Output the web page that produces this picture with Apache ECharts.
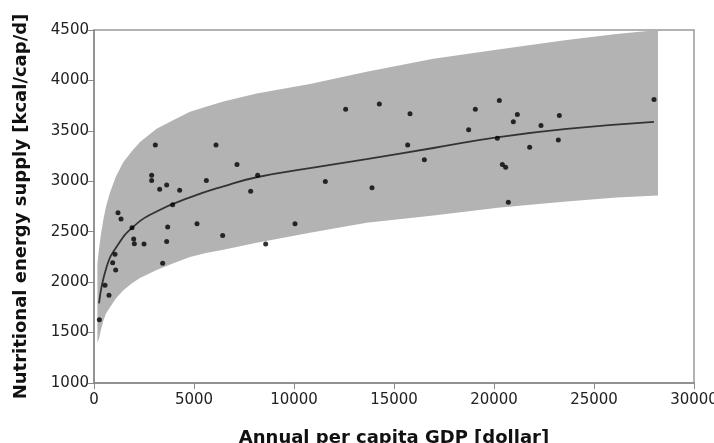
<!DOCTYPE html>
<html>
<head>
<meta charset="utf-8">
<script src="https://cdn.jsdelivr.net/npm/echarts@6/dist/echarts.min.js"></script>
<style>
  html, body { margin: 0; padding: 0; background: #fff; }
  #chart { width: 714px; height: 443px; }
</style>
</head>
<body>
<div id="chart"></div>
<script>
  // scatter: per capita GDP [dollar] / energy supply [kcal/cap/d]
  var gdp = [267, 550, 750, 933, 1050, 1083, 1200, 1350, 1900, 1983, 2017, 2500, 2883, 2883, 3067, 3283, 3433, 3633, 3633, 3683, 3933, 4283, 5150, 5617, 6100, 6433, 7150, 7833, 8183, 8583, 10050,
    11567, 12583, 13900, 14267, 15683, 15800, 16517, 18733, 19067, 20167, 20267, 20417, 20583, 20717, 20967, 21167, 21783, 22350, 23217, 23267, 28000]
  var kcal = [1627, 1970, 1870, 2193, 2277, 2120, 2687, 2627, 2540, 2427, 2380, 2377, 3060, 3007, 3360, 2920, 2187, 2963, 2403, 2547, 2767, 2910, 2580, 3007, 3360, 2463, 3167, 2900, 3060, 2377, 2580,
    2997, 3713, 2937, 3767, 3360, 3670, 3213, 3510, 3713, 3427, 3800, 3167, 3140, 2793, 3590, 3663, 3337, 3553, 3410, 3653, 3810]

  // fitted curve
  var curveX = [250, 630, 1130, 1970, 3130, 4800, 6470, 8130, 10800, 13630, 16970, 20300, 23630, 28000]
  var curveY = [1790, 2150, 2350, 2550, 2700, 2840, 2950, 3040, 3130, 3220, 3330, 3440, 3520, 3590]

  // grey band (upper / lower boundary)
  var bandX = [170, 250, 350, 470, 600, 800, 1100, 1470, 1900, 2300, 3130, 4000, 4800, 5600, 6470, 8130, 10800, 13630, 16970, 20300, 23630, 26130, 28200]
  var bandUpper = [2180, 2330, 2480, 2620, 2750, 2890, 3050, 3190, 3300, 3390, 3520, 3610, 3690, 3740, 3790, 3870, 3965, 4085, 4215, 4310, 4400, 4460, 4500]
  var bandLower = [1400, 1440, 1530, 1620, 1690, 1750, 1840, 1920, 1990, 2040, 2120, 2190, 2250, 2290, 2320, 2390, 2490, 2590, 2660, 2740, 2800, 2840, 2860]

  var font = 'DejaVu Sans'
  var chart = echarts.init(document.getElementById('chart'))

  chart.setOption({
    animation: false,
    grid: {
      left: 94,
      right: 20,
      top: 30,
      bottom: 60,
      outerBoundsMode: 'none',
      show: true,
      borderColor: '#999',
      borderWidth: 1.5,
      backgroundColor: 'transparent'
    },
    xAxis: {
      type: 'value',
      min: 0,
      max: 30000,
      interval: 5000,
      name: 'Annual per capita GDP [dollar]',
      nameLocation: 'middle',
      nameGap: 46,
      nameTextStyle: { fontFamily: font, fontWeight: 'bold', fontSize: 18, color: '#111' },
      axisLine: { lineStyle: { color: '#888', width: 1.5 } },
      axisTick: { show: true, length: 6, lineStyle: { color: '#888' } },
      axisLabel: { fontFamily: font, fontSize: 15, color: '#222', margin: 10, formatter: function (v) { return String(v) } },
      splitLine: { show: false }
    },
    yAxis: {
      type: 'value',
      min: 1000,
      max: 4500,
      interval: 500,
      name: 'Nutritional energy supply [kcal/cap/d]',
      nameLocation: 'middle',
      nameGap: 64,
      nameTextStyle: { fontFamily: font, fontWeight: 'bold', fontSize: 18, color: '#111' },
      axisLine: { show: true, lineStyle: { color: '#888', width: 1.5 } },
      axisTick: { show: true, length: 6, lineStyle: { color: '#888' } },
      axisLabel: { fontFamily: font, fontSize: 15, color: '#222', margin: 5, formatter: function (v) { return String(v) } },
      splitLine: { show: false }
    },
    series: [
      {
        // band drawn as a polygon through the axis scales
        type: 'custom',
        silent: true,
        data: [0],
        z: 1,
        renderItem: function (params, api) {
          var pts = []
          for (var i = 0; i < bandX.length; i++) {
            pts.push(api.coord([bandX[i], bandUpper[i]]))
          }
          for (var j = bandX.length - 1; j >= 0; j--) {
            pts.push(api.coord([bandX[j], bandLower[j]]))
          }
          return {
            type: 'polygon',
            shape: { points: pts },
            style: { fill: '#b3b3b3' }
          }
        }
      },
      {
        type: 'line',
        data: curveX.map(function (x, i) { return [x, curveY[i]] }),
        smooth: true,
        showSymbol: false,
        z: 2,
        lineStyle: { color: '#333', width: 1.8 }
      },
      {
        type: 'scatter',
        data: gdp.map(function (x, i) { return [x, kcal[i]] }),
        symbolSize: 5,
        z: 3,
        itemStyle: { color: '#000' }
      }
    ]
  })
</script>
</body>
</html>
